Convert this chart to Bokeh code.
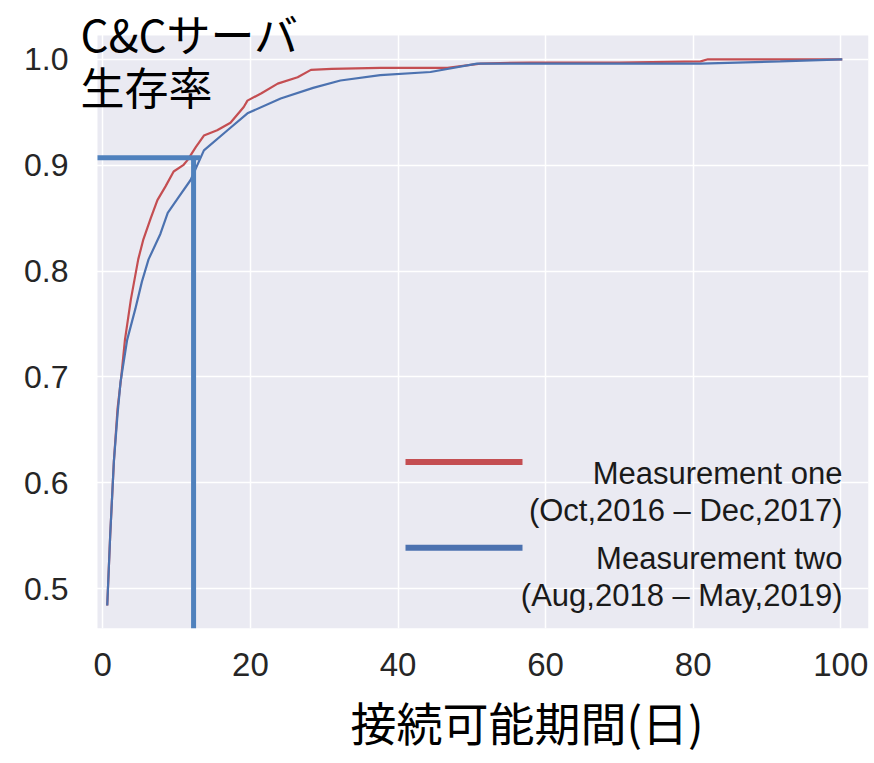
from bokeh.plotting import figure
from bokeh.models import (FixedTicker, Label, Range1d, BoxAnnotation, Title)
from bokeh.embed import file_html
from bokeh.resources import INLINE

# ---- data ----
days_one = [0.6, 1.0, 1.5, 2.0, 2.5, 3.0, 3.8, 4.8, 5.5, 6.5, 7.4, 8.5, 9.6, 10.9, 11.5,
            12.6, 13.7, 15.5, 17.3, 19.1, 19.6, 21.5, 23.7, 26.4, 28.2, 31.0, 37.6, 46.7,
            51.2, 58.0, 70.0, 81.0, 82.0, 90.0, 100.2]
rate_one = [0.484, 0.55, 0.62, 0.67, 0.70, 0.735, 0.773, 0.811, 0.83, 0.85, 0.867, 0.88,
            0.894, 0.90, 0.905, 0.917, 0.928, 0.933, 0.94, 0.955, 0.961, 0.968, 0.977,
            0.983, 0.99, 0.991, 0.992, 0.992, 0.996, 0.997, 0.997, 0.998, 1.0, 1.0, 1.0]

days_two = [0.6, 1.0, 1.5, 2.0, 2.4, 3.3, 4.4, 5.3, 6.2, 7.8, 8.8, 10.3, 11.9, 13.7, 16.9,
            19.6, 24.1, 28.5, 32.2, 37.6, 44.4, 50.7, 58.0, 70.0, 81.0, 91.8, 100.2]
rate_two = [0.484, 0.55, 0.62, 0.665, 0.695, 0.735, 0.764, 0.79, 0.811, 0.835, 0.855, 0.87,
            0.886, 0.914, 0.933, 0.949, 0.963, 0.973, 0.98, 0.985, 0.988, 0.996, 0.996,
            0.996, 0.996, 0.998, 1.0]

series_names = ["Measurement one", "Measurement two"]
series_periods = ["(Oct,2016 \u2013 Dec,2017)", "(Aug,2018 \u2013 May,2019)"]

x_ticks = [0, 20, 40, 60, 80, 100]
x_tick_labels = ["0", "20", "40", "60", "80", "100"]
y_ticks = [0.5, 0.6, 0.7, 0.8, 0.9, 1.0]
y_tick_labels = ["0.5", "0.6", "0.7", "0.8", "0.9", "1.0"]

cutoff_day = 12.3
cutoff_rate = 0.907

x_title = "接続可能期間(日)"
y_title_lines = ["C&Cサーバ", "生存率"]

# ---- layout (pixel geometry of the canvas) ----
W, H = 874, 760
FL, FR, FT, FB = 72, 868, 0, 630      # frame edges
PL, PT = 97, 35                       # shaded plot area top-left corner
X_ZERO_PX, X_PX_PER_UNIT = 102.3, 7.38
Y_ONE_PX, Y_PX_PER_UNIT = 59.0, 1062.0


def xv(px):
    return (px - X_ZERO_PX) / X_PX_PER_UNIT


def yv(py):
    return 1.0 - (py - Y_ONE_PX) / Y_PX_PER_UNIT


X0, X1 = xv(FL), xv(FR)
Y0, Y1 = yv(FB), yv(FT)

RED = "#c44e52"
BLUE = "#4c72b0"
ANNOT = "#4f81bd"
BG = "#eaeaf2"

p = figure(width=W, height=H, x_range=Range1d(X0, X1), y_range=Range1d(Y0, Y1),
           output_backend="svg", toolbar_location=None,
           min_border_left=FL, min_border_right=W - FR,
           min_border_top=FT, min_border_bottom=H - FB)
p.background_fill_color = "white"
p.border_fill_color = "white"
p.outline_line_color = None

# shaded plot area
p.add_layout(BoxAnnotation(left=xv(PL), right=X1, top=yv(PT), bottom=Y0,
                           fill_color=BG, fill_alpha=1.0, line_alpha=0,
                           level="image"))

p.xgrid.ticker = FixedTicker(ticks=x_ticks)
p.ygrid.ticker = FixedTicker(ticks=y_ticks)
p.grid.grid_line_color = "white"
p.grid.grid_line_width = 1.5

p.xaxis.ticker = FixedTicker(ticks=x_ticks)
p.xaxis.major_label_overrides = {t: l for t, l in zip(x_ticks, x_tick_labels)}
p.yaxis.ticker = FixedTicker(ticks=y_ticks)
p.yaxis.major_label_overrides = {t: l for t, l in zip(y_ticks, y_tick_labels)}
for ax in (p.xaxis, p.yaxis):
    ax.axis_line_color = None
    ax.major_tick_line_color = None
    ax.minor_tick_line_color = None
    ax.major_tick_out = 0
    ax.major_tick_in = 0
    ax.major_label_text_font = "Liberation Sans"
    ax.major_label_text_color = "#262626"
p.xaxis.major_label_text_font_size = "33px"
p.xaxis.major_label_standoff = 24
p.yaxis.major_label_text_font_size = "32px"
p.yaxis.major_label_standoff = 4

# curves
p.line(days_one, rate_one, line_color=RED, line_width=2.2)
p.line(days_two, rate_two, line_color=BLUE, line_width=2.2)

# cut-off marker lines
p.segment(x0=[xv(PL)], y0=[cutoff_rate], x1=[cutoff_day + 0.9], y1=[cutoff_rate],
          line_color=ANNOT, line_width=5)
p.segment(x0=[cutoff_day], y0=[cutoff_rate], x1=[cutoff_day], y1=[Y0],
          line_color=ANNOT, line_width=5)

# legend: swatches + right aligned two-line labels
swatch_y = [463, 549]
leg_text_y = [(475, 512), (560, 597)]
for sy, col in zip(swatch_y, [RED, BLUE]):
    p.add_layout(BoxAnnotation(left=xv(405), right=xv(522), top=yv(sy - 3),
                               bottom=yv(sy + 3), fill_color=col, fill_alpha=1.0,
                               line_alpha=0))
for (y1, y2), name, period in zip(leg_text_y, series_names, series_periods):
    for yy, t in ((y1, name), (y2, period)):
        p.add_layout(Label(x=xv(842), y=yv(yy), text=t, text_align="right",
                           text_baseline="middle", text_font="Liberation Sans",
                           text_font_size="31px", text_color="#1a1a1a"))

# y title (two lines, top-left)
for yy, t in zip((33, 86), y_title_lines):
    p.add_layout(Label(x=xv(80), y=yv(yy), text=t, text_align="left",
                       text_baseline="middle", text_font="Noto Sans CJK JP",
                       text_font_size="44px", text_color="black"))

# x title below the axis
p.add_layout(Title(text=x_title, align="left", offset=350 - FL, standoff=14,
                   text_font="Noto Sans CJK JP", text_font_size="46px",
                   text_font_style="normal", text_color="black"), "below")

open("out.html", "w").write(file_html(p, INLINE))
